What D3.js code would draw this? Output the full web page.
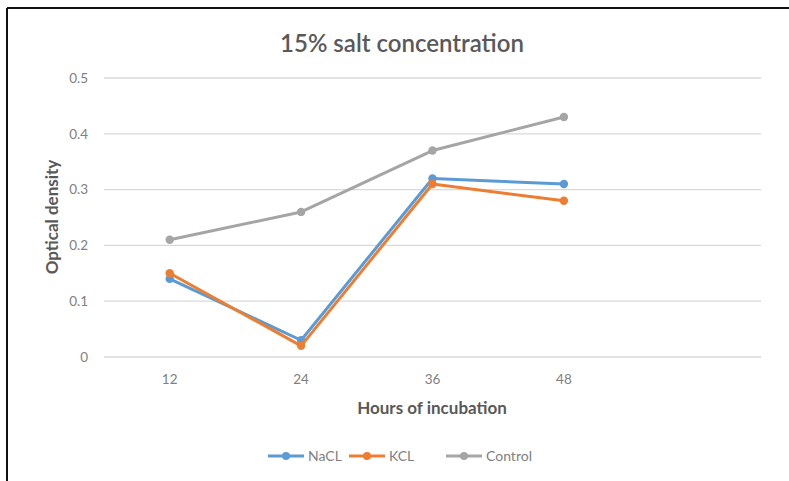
<!DOCTYPE html>
<html><head><meta charset="utf-8">
<script src="https://cdn.jsdelivr.net/npm/d3@7"></script>
<style>body{margin:0;background:#fff}svg{display:block}</style>
</head><body>
<svg id="c" width="789" height="481"></svg>
<script>
const categories = ["12","24","36","48",""];
const hours = ["12","24","36","48"];
const nacl = [0.14, 0.03, 0.32, 0.31];
const kcl = [0.15, 0.02, 0.31, 0.28];
const control = [0.21, 0.26, 0.37, 0.43];
const yTicks = [0, 0.1, 0.2, 0.3, 0.4, 0.5];
const seriesNames = ["NaCL","KCL","Control"];
const colors = ["#5b9bd5","#ed7d31","#a5a5a5"];
const series = [nacl, kcl, control];

const svg = d3.select("#c");
const font = "Lato, 'Open Sans', sans-serif";
const x = d3.scaleBand().domain(categories).range([104, 761]);
const y = d3.scaleLinear().domain([0, 0.5]).range([357, 78]);

// outer black border (top and left)
svg.append("line").attr("x1",7).attr("x2",789).attr("y1",8).attr("y2",8).attr("stroke","#111").attr("stroke-width",2);
svg.append("line").attr("x1",7).attr("x2",7).attr("y1",8).attr("y2",481).attr("stroke","#111").attr("stroke-width",2);

// gridlines
svg.append("g").selectAll("line").data(yTicks).join("line")
  .attr("x1",104).attr("x2",761).attr("y1",d=>y(d)).attr("y2",d=>y(d))
  .attr("stroke","#d9d9d9").attr("stroke-width",1.3);

// y axis labels
const yAxis = d3.axisLeft(y).tickValues(yTicks).tickSize(0).tickPadding(0)
  .tickFormat(d => d === 0 ? "0" : d3.format(".1f")(d));
const ga = svg.append("g").attr("transform","translate(88,0)").call(yAxis);
ga.select(".domain").remove();
ga.selectAll("text").attr("font-family",font).attr("font-size",13.5).attr("fill","#808080");

// x axis labels
const xAxis = d3.axisBottom(x).tickSize(0).tickPadding(0);
const gx = svg.append("g").attr("transform","translate(0,374)").call(xAxis);
gx.select(".domain").remove();
gx.selectAll("text").attr("font-family",font).attr("font-size",13.5).attr("fill","#808080");

// title
svg.append("text").attr("x",402).attr("y",52).attr("text-anchor","middle")
  .attr("font-family",font).attr("font-size",24).attr("font-weight",600).attr("fill","#595959").text("15% salt concentration");
// axis titles
svg.append("text").attr("x",432).attr("y",414).attr("text-anchor","middle")
  .attr("font-family",font).attr("font-size",17).attr("font-weight","bold").attr("fill","#595959").text("Hours of incubation");
svg.append("text").attr("transform","translate(58,217) rotate(-90)").attr("text-anchor","middle")
  .attr("font-family",font).attr("font-size",17).attr("font-weight","bold").attr("fill","#595959").text("Optical density");

// lines
const line = d3.line().x((d,i)=>x(hours[i]) + x.bandwidth()/2).y(d=>y(d));
const order = [2,0,1];
order.forEach(si => {
  const g = svg.append("g");
  g.append("path").attr("d", line(series[si])).attr("fill","none")
    .attr("stroke",colors[si]).attr("stroke-width",3).attr("stroke-linejoin","round").attr("stroke-linecap","round");
  g.selectAll("circle").data(series[si]).join("circle")
    .attr("cx",(d,i)=>x(hours[i]) + x.bandwidth()/2).attr("cy",d=>y(d)).attr("r",4.2).attr("fill",colors[si]);
});

// legend
const legX = [268, 349, 446];
seriesNames.forEach((n,i) => {
  const g = svg.append("g").attr("transform",`translate(${legX[i]},456)`);
  g.append("line").attr("x1",0).attr("x2",36).attr("stroke",colors[i]).attr("stroke-width",3);
  g.append("circle").attr("cx",18).attr("r",4).attr("fill",colors[i]);
  g.append("text").attr("x",40).attr("y",5).attr("font-family",font).attr("font-size",14).attr("fill","#808080").text(n);
});
</script>
</body></html>
